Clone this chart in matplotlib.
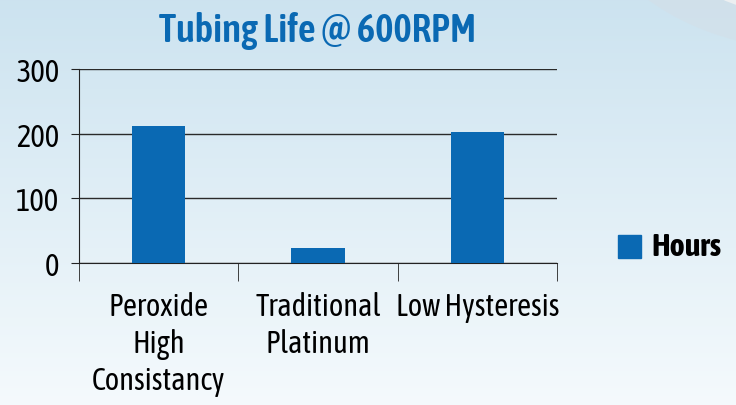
import matplotlib
matplotlib.use("Agg")
import matplotlib.pyplot as plt
import numpy as np
from matplotlib.patches import Rectangle, Ellipse

categories = ["Peroxide\nHigh\nConsistancy", "Traditional\nPlatinum", "Low Hysteresis"]
hours = [212, 23, 202]
yticks = [0, 100, 200, 300]

BLUE = "#0a69b3"
FONT = ["Asap Condensed", "DejaVu Sans"]

fig = plt.figure(figsize=(7.36, 4.06), dpi=100)

# background: light blue fading to near white, with a pale swoosh top right
bg = fig.add_axes([0, 0, 1, 1], zorder=-10)
grad = np.linspace(0, 1, 256)[:, None]
top = np.array([0.80, 0.89, 0.94])
bot = np.array([0.96, 0.98, 0.99])
img = top[None, None, :] * (1 - grad[..., None]) + bot[None, None, :] * grad[..., None]
img = np.repeat(img, 4, axis=1)
bg.imshow(img, aspect="auto", extent=[0, 1, 0, 1])
bg.add_patch(Ellipse((1.12, 1.25), 0.64, 0.76, color="#d5dee6", alpha=0.45, lw=0))
bg.add_patch(Ellipse((1.15, 1.22), 0.55, 0.56, color="#eceff1", lw=0))
bg.set_xlim(0, 1)
bg.set_ylim(0, 1)
bg.set_axis_off()

ax = fig.add_axes([79 / 736, 1 - 264 / 406, (557 - 79) / 736, (264 - 70) / 406])
ax.patch.set_alpha(0)
x = np.arange(len(categories))
ax.bar(x, hours, width=1 / 3, color=BLUE, zorder=3, label="Hours")
ax.set_xlim(-0.5, len(categories) - 0.5)
ax.set_ylim(0, 300)
ax.set_yticks(yticks)
ax.yaxis.grid(True, color="#2a2a2a", linewidth=1)
ax.set_axisbelow(True)
for s in ["top", "right"]:
    ax.spines[s].set_visible(False)
ax.spines["left"].set_color("#222222")
ax.spines["bottom"].set_color("#222222")
ax.set_xticks(np.arange(len(categories) + 1) - 0.5, minor=True)
ax.set_xticks(x)
ax.set_xticklabels(categories, fontsize=22, family=FONT, linespacing=1.25)
ax.tick_params(axis="x", which="major", length=0, pad=20)
ax.tick_params(axis="x", which="minor", length=13, color="#222222")
ax.tick_params(axis="y", length=6, color="#222222", labelsize=22, pad=8)
for t in ax.get_yticklabels():
    t.set_family(FONT)

fig.text(318 / 736, 1 - 31 / 406, "Tubing Life @ 600RPM", ha="center", va="center",
         fontsize=28, fontweight="semibold", color=BLUE, family=FONT)

fig.patches.append(Rectangle((618 / 736, 1 - 259 / 406), 23 / 736, 23 / 406,
                             transform=fig.transFigure, color=BLUE))
fig.text(651 / 736, 1 - 248 / 406, "Hours", ha="left", va="center",
         fontsize=23, fontweight="bold", family=FONT)

fig.savefig("out.png", dpi=100)
